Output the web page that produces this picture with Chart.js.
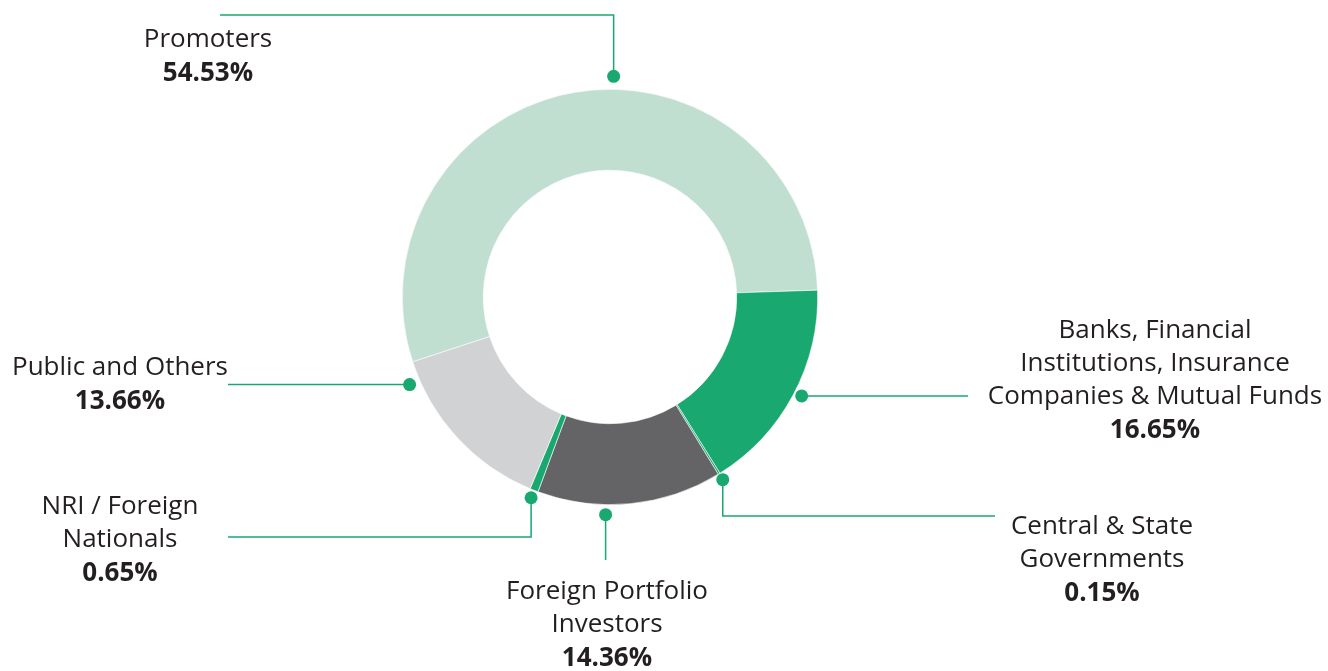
<!DOCTYPE html>
<html>
<head>
<meta charset="utf-8">
<script src="https://cdn.jsdelivr.net/npm/chart.js@4"></script>
<style>
  html, body { margin: 0; padding: 0; background: #fff; }
  #wrap { width: 1328px; height: 671px; position: relative; }
</style>
</head>
<body>
<div id="wrap"><canvas id="pie"></canvas></div>
<script>
// DATA
const categories = ['Promoters', 'Banks, Financial Institutions, Insurance Companies & Mutual Funds',
  'Central & State Governments', 'Foreign Portfolio Investors', 'NRI / Foreign Nationals', 'Public and Others'];
const labelLines = [
  ['Promoters'],
  ['Banks, Financial', 'Institutions, Insurance', 'Companies & Mutual Funds'],
  ['Central & State', 'Governments'],
  ['Foreign Portfolio', 'Investors'],
  ['NRI / Foreign', 'Nationals'],
  ['Public and Others']
];
const shares = [54.53, 16.65, 0.15, 14.36, 0.65, 13.66];
const sliceColors = ['#c1dfd0', '#18a870', '#18a870', '#646466', '#18a870', '#d1d2d4'];

// CALLOUTS (where the dot sits on the slice, leader path, label spot)
const callouts = [
  { frac: 0.556, off: 13, path: [['v', 15], ['h', 220]], x: 208, y: 40 },
  { frac: 0.487, off: 8,  path: [['h', 968]], x: 1155, y: 331 },
  { frac: 0.5,   off: 7,  path: [['v', 516], ['h', 995]], x: 1102, y: 527 },
  { frac: 0.63,  off: 10, path: [['v', 560]], x: 607, y: 592 },
  { frac: 0.5,   off: 8,  path: [['v', 537], ['h', 228]], x: 120, y: 507 },
  { frac: 0.89,  off: 11, path: [['h', 228]], x: 120, y: 368 }
];

const lineGreen = '#18a870';

const calloutPlugin = {
  id: 'callouts',
  afterDraw(chart) {
    const ctx = chart.ctx;
    const arcs = chart.getDatasetMeta(0).data;
    ctx.save();
    callouts.forEach((c, i) => {
      const a = arcs[i];
      const ang = a.startAngle + c.frac * (a.endAngle - a.startAngle);
      const r = a.outerRadius + c.off;
      const px = a.x + r * Math.cos(ang);
      const py = a.y + r * Math.sin(ang);

      // leader line
      ctx.strokeStyle = lineGreen;
      ctx.lineWidth = 1.5;
      ctx.beginPath();
      let cx = px, cy = py;
      ctx.moveTo(cx, cy);
      c.path.forEach(s => {
        if (s[0] === 'v') cy = s[1]; else cx = s[1];
        ctx.lineTo(cx, cy);
      });
      ctx.stroke();

      // dot
      ctx.fillStyle = lineGreen;
      ctx.beginPath();
      ctx.arc(px, py, 6.5, 0, Math.PI * 2);
      ctx.fill();

      // label text
      ctx.textAlign = 'center';
      ctx.textBaseline = 'middle';
      ctx.fillStyle = '#231f20';
      ctx.font = '400 26px "Open Sans"';
      let ty = c.y;
      labelLines[i].forEach(t => {
        ctx.fillText(t, c.x, ty);
        ty += 33;
      });
      ctx.font = '700 26px "Open Sans"';
      ctx.fillText(shares[i].toFixed(2) + '%', c.x, ty + 1);
    });
    ctx.restore();
  }
};

new Chart(document.getElementById('pie'), {
  type: 'doughnut',
  data: {
    labels: categories,
    datasets: [{
      data: shares,
      backgroundColor: sliceColors,
      borderColor: '#ffffff',
      borderWidth: 0.6
    }]
  },
  options: {
    responsive: true,
    maintainAspectRatio: false,
    animation: false,
    cutout: '61%',
    rotation: -108.2,
    layout: { padding: { left: 402, right: 510, top: 89, bottom: 166 } },
    plugins: {
      legend: { display: false },
      tooltip: { enabled: false }
    }
  },
  plugins: [calloutPlugin]
});
</script>
</body>
</html>
